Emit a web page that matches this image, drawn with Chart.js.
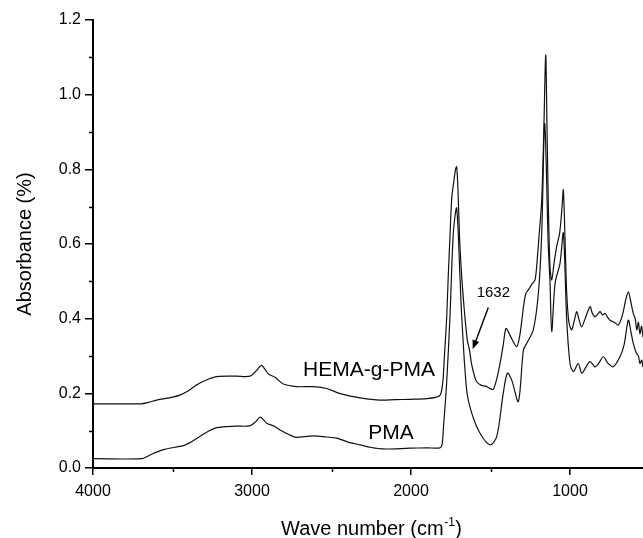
<!DOCTYPE html>
<html>
<head>
<meta charset="utf-8">
<script src="https://cdn.jsdelivr.net/npm/chart.js@4.4.1/dist/chart.umd.min.js"></script>
<style>
  html, body { margin: 0; padding: 0; background: #fff; }
  #wrap { width: 643px; height: 538px; position: relative; }
</style>
</head>
<body>
<div id="wrap"><canvas id="chart"></canvas></div>
<script>
// spectra (wave number in cm-1, absorbance)
const hemaWave = [4000, 3700, 3650, 3600, 3500, 3450, 3400, 3350, 3280, 3220, 3100, 3013, 2970, 2940, 2915, 2897, 2855, 2803, 2719, 2614, 2530, 2450, 2363, 2280, 2195, 2100, 2006, 1900, 1840, 1815, 1800, 1790, 1776, 1766, 1755, 1744, 1730, 1720, 1713, 1705, 1695, 1681, 1670, 1660, 1645, 1632, 1620, 1600, 1587, 1560, 1524, 1500, 1482, 1460, 1440, 1420, 1403, 1385, 1365, 1335, 1318, 1304, 1290, 1277, 1256, 1235, 1220, 1210, 1195, 1178, 1165, 1153, 1145, 1137, 1126, 1115, 1100, 1084, 1065, 1050, 1042, 1032, 1021, 1010, 1000, 989, 970, 958, 945, 927, 905, 874, 860, 843, 820, 811, 795, 780, 765, 749, 720, 696, 670, 650, 633, 620, 602, 590, 580, 570, 560, 550, 541]
const hemaAbs = [0.172, 0.172, 0.176, 0.182, 0.190, 0.196, 0.207, 0.222, 0.237, 0.245, 0.246, 0.246, 0.262, 0.275, 0.262, 0.252, 0.243, 0.225, 0.218, 0.218, 0.213, 0.200, 0.191, 0.185, 0.182, 0.183, 0.184, 0.186, 0.190, 0.196, 0.230, 0.300, 0.400, 0.512, 0.620, 0.722, 0.770, 0.800, 0.807, 0.750, 0.620, 0.512, 0.450, 0.400, 0.340, 0.316, 0.280, 0.245, 0.231, 0.222, 0.218, 0.212, 0.211, 0.240, 0.280, 0.330, 0.374, 0.362, 0.345, 0.325, 0.350, 0.392, 0.440, 0.468, 0.481, 0.495, 0.504, 0.539, 0.620, 0.718, 0.900, 1.106, 0.920, 0.718, 0.539, 0.504, 0.550, 0.593, 0.630, 0.700, 0.745, 0.620, 0.470, 0.400, 0.378, 0.370, 0.400, 0.419, 0.400, 0.378, 0.400, 0.432, 0.415, 0.405, 0.415, 0.419, 0.410, 0.414, 0.405, 0.396, 0.390, 0.383, 0.410, 0.450, 0.472, 0.450, 0.414, 0.400, 0.370, 0.390, 0.360, 0.380, 0.350]

const pmaWave = [4000, 3694, 3650, 3621, 3550, 3432, 3390, 3348, 3280, 3222, 3100, 3013, 2975, 2950, 2925, 2908, 2860, 2824, 2740, 2719, 2614, 2530, 2467, 2400, 2321, 2250, 2174, 2006, 1900, 1818, 1805, 1797, 1776, 1755, 1734, 1713, 1692, 1681, 1650, 1618, 1566, 1503, 1461, 1420, 1394, 1367, 1325, 1293, 1272, 1231, 1199, 1178, 1159, 1137, 1126, 1115, 1094, 1063, 1042, 1021, 1000, 979, 948, 927, 900, 874, 843, 820, 791, 760, 728, 686, 660, 633, 615, 602, 585, 570, 560, 549, 541]
const pmaAbs = [0.025, 0.025, 0.033, 0.039, 0.050, 0.060, 0.068, 0.079, 0.097, 0.108, 0.112, 0.113, 0.125, 0.136, 0.128, 0.120, 0.112, 0.102, 0.084, 0.082, 0.086, 0.083, 0.080, 0.070, 0.062, 0.055, 0.051, 0.053, 0.054, 0.054, 0.062, 0.102, 0.227, 0.405, 0.629, 0.696, 0.512, 0.405, 0.209, 0.147, 0.093, 0.062, 0.084, 0.200, 0.254, 0.236, 0.178, 0.316, 0.334, 0.370, 0.468, 0.629, 0.923, 0.600, 0.500, 0.365, 0.495, 0.548, 0.629, 0.400, 0.280, 0.258, 0.280, 0.254, 0.270, 0.285, 0.271, 0.280, 0.298, 0.280, 0.271, 0.298, 0.330, 0.396, 0.360, 0.334, 0.310, 0.300, 0.280, 0.289, 0.270]

const xMajor = [4000, 3000, 2000, 1000]
const xMinor = [3500, 2500, 1500]
const yMajor = [0, 0.2, 0.4, 0.6, 0.8, 1.0, 1.2]
const yMinor = [0.1, 0.3, 0.5, 0.7, 0.9, 1.1]

const FONT = "'Liberation Sans', Arial, sans-serif"

function toPoints(xs, ys) {
  return xs.map((x, i) => ({ x, y: ys[i] }))
}

const decorPlugin = {
  id: 'decor',
  afterDraw(chart) {
    const ctx = chart.ctx
    const xs = chart.scales.x
    const ys = chart.scales.y
    const area = chart.chartArea
    ctx.save()
    ctx.strokeStyle = '#000'
    ctx.fillStyle = '#000'
    ctx.lineWidth = 1.5

    // minor ticks
    xMinor.forEach(v => {
      const px = Math.round(xs.getPixelForValue(v)) + 0.5
      ctx.beginPath()
      ctx.moveTo(px, area.bottom)
      ctx.lineTo(px, area.bottom + 4)
      ctx.stroke()
    })
    yMinor.forEach(v => {
      const py = Math.round(ys.getPixelForValue(v)) + 0.5
      ctx.beginPath()
      ctx.moveTo(area.left, py)
      ctx.lineTo(area.left - 4, py)
      ctx.stroke()
    })

    // curve labels
    ctx.font = '21px ' + FONT
    ctx.textBaseline = 'alphabetic'
    ctx.textAlign = 'left'
    ctx.fillText('HEMA-g-PMA', xs.getPixelForValue(2679), ys.getPixelForValue(0.246))
    ctx.fillText('PMA', xs.getPixelForValue(2269), ys.getPixelForValue(0.078))
    ctx.font = '15px ' + FONT
    ctx.fillText('1632', xs.getPixelForValue(1587), ys.getPixelForValue(0.459))

    // arrow to the 1632 shoulder
    const x0 = xs.getPixelForValue(1514), y0 = ys.getPixelForValue(0.430)
    const x1 = xs.getPixelForValue(1612), y1 = ys.getPixelForValue(0.318)
    const ang = Math.atan2(y1 - y0, x1 - x0)
    ctx.lineWidth = 1.4
    ctx.beginPath()
    ctx.moveTo(x0, y0)
    ctx.lineTo(x1 - 6 * Math.cos(ang), y1 - 6 * Math.sin(ang))
    ctx.stroke()
    ctx.beginPath()
    ctx.moveTo(x1, y1)
    ctx.lineTo(x1 - 9 * Math.cos(ang) + 3.5 * Math.sin(ang), y1 - 9 * Math.sin(ang) - 3.5 * Math.cos(ang))
    ctx.lineTo(x1 - 9 * Math.cos(ang) - 3.5 * Math.sin(ang), y1 - 9 * Math.sin(ang) + 3.5 * Math.cos(ang))
    ctx.closePath()
    ctx.fill()

    // axis titles
    ctx.font = '20px ' + FONT
    const a = 'Wave number (cm', sup = '-1', b = ')'
    const wa = ctx.measureText(a).width
    const wb = ctx.measureText(b).width
    ctx.font = '12px ' + FONT
    const ws = ctx.measureText(sup).width
    let tx = 371 - (wa + ws + wb) / 2
    const base = 535
    ctx.font = '20px ' + FONT
    ctx.fillText(a, tx, base)
    tx += wa
    ctx.font = '12px ' + FONT
    ctx.fillText(sup, tx + 0.5, base - 9)
    tx += ws + 1
    ctx.font = '20px ' + FONT
    ctx.fillText(b, tx, base)

    ctx.translate(31, (area.top + area.bottom) / 2)
    ctx.rotate(-Math.PI / 2)
    ctx.textAlign = 'center'
    ctx.fillText('Absorbance (%)', 0, 0)
    ctx.restore()
  }
}

const ctx = document.getElementById('chart').getContext('2d')
new Chart(ctx, {
  type: 'scatter',
  data: {
    datasets: [
      {
        label: 'HEMA-g-PMA',
        data: toPoints(hemaWave, hemaAbs),
        showLine: true,
        borderColor: '#111',
        borderWidth: 1.2,
        pointRadius: 0,
        tension: 0.3
      },
      {
        label: 'PMA',
        data: toPoints(pmaWave, pmaAbs),
        showLine: true,
        borderColor: '#111',
        borderWidth: 1.2,
        pointRadius: 0,
        tension: 0.3
      }
    ]
  },
  options: {
    responsive: true,
    maintainAspectRatio: false,
    animation: false,
    layout: { padding: { top: 20, right: 0, left: 0, bottom: 0 } },
    plugins: {
      legend: { display: false },
      tooltip: { enabled: false }
    },
    scales: {
      x: {
        type: 'linear',
        reverse: true,
        min: 541,
        max: 4000,
        afterBuildTicks: s => { s.ticks = xMajor.map(v => ({ value: v })) },
        afterFit: s => { s.height = 70 },
        border: { display: true, color: '#000', width: 2 },
        grid: { drawOnChartArea: false, drawTicks: true, tickLength: 7, color: '#000', lineWidth: 1.5 },
        ticks: { color: '#000', font: { family: FONT, size: 16 }, padding: 7, maxRotation: 0, callback: v => String(v) }
      },
      y: {
        min: 0,
        max: 1.2,
        afterBuildTicks: s => { s.ticks = yMajor.map(v => ({ value: v })) },
        afterFit: s => { s.width = 93 },
        border: { display: true, color: '#000', width: 2 },
        grid: { drawOnChartArea: false, drawTicks: true, tickLength: 8, color: '#000', lineWidth: 1.5 },
        ticks: { color: '#000', font: { family: FONT, size: 16 }, padding: 4, callback: v => v.toFixed(1) }
      }
    }
  },
  plugins: [decorPlugin]
})
</script>
</body>
</html>
